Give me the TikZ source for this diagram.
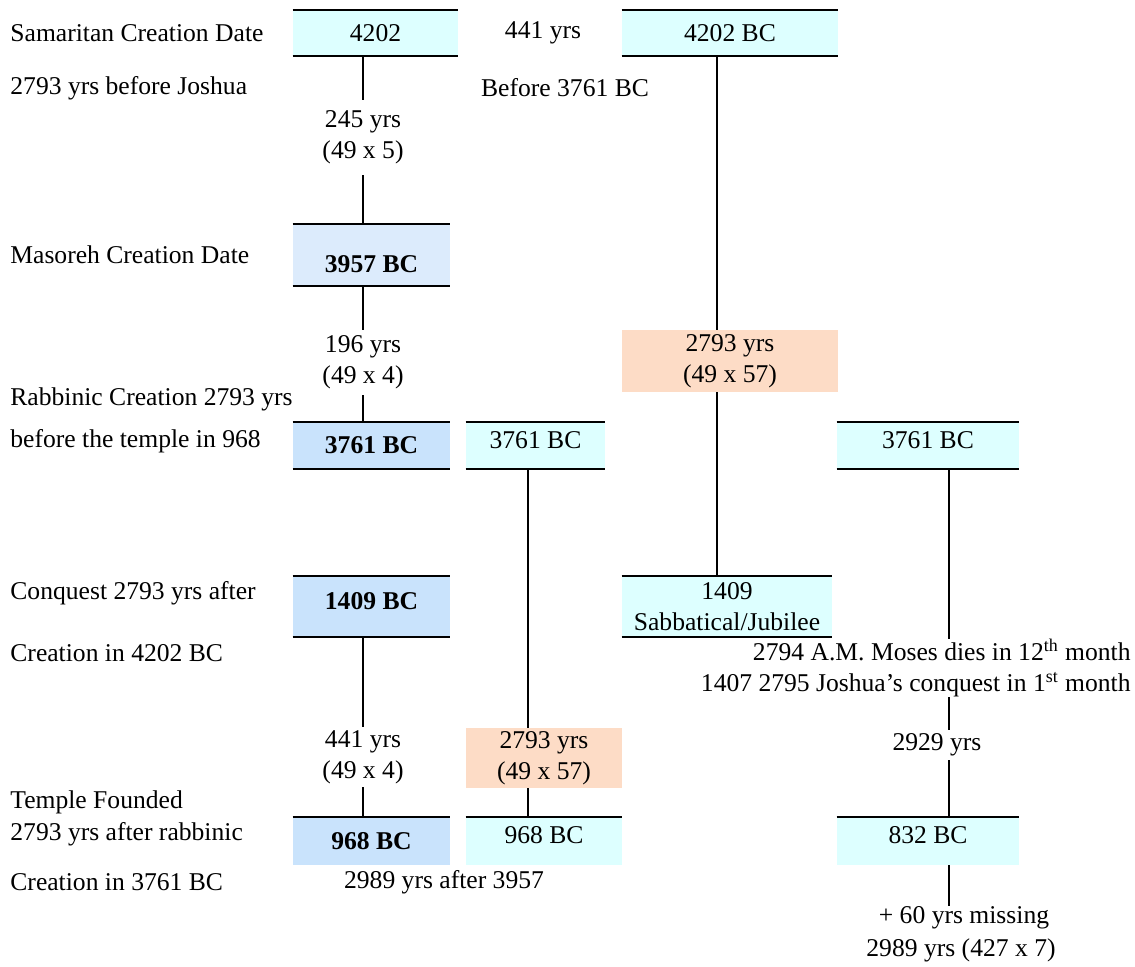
\documentclass[tikz,border=0pt]{standalone}
\usepackage{fontspec}
\setmainfont{Liberation Serif}
\usepackage{tikz}
\usepackage{xcolor}
\usetikzlibrary{positioning}
\definecolor{skycyan}{HTML}{DDFFFF}
\definecolor{paleblue}{HTML}{DCEBFC}
\definecolor{midblue}{HTML}{C9E3FC}
\definecolor{peach}{HTML}{FDDCC6}

\begin{document}
\begin{tikzpicture}[x=0.5pt,y=-0.5pt,
  every node/.style={font=\fontsize{12.8}{15.5}\selectfont,inner sep=0pt},
  rule/.style={line width=1pt},
  datebox/.style={fill=#1,align=center},
  cell/.style 2 args={minimum width=#1,minimum height=#2},
  span/.style={align=center,minimum height=#1}]
\useasboundingbox (0,0) rectangle (1135,966);
\coordinate (lx) at (528,0);\coordinate (mx) at (717,0);\coordinate (rx) at (949,0);
% date boxes
\node[datebox=skycyan,cell={82.5pt}{23pt}] (b4202) at (375.5,33) {4202};
\node[datebox=skycyan,cell={108pt}{23pt}] (b4202bc) at (730,33) {4202 BC};
\node[datebox=paleblue,cell={78.5pt}{31pt},text height=18pt] (b3957) at (371.5,255) {\textbf{3957 BC}};
\node[datebox=midblue,cell={78.5pt}{23.5pt}] (b3761a) at (371.5,445.5) {\textbf{3761 BC}};
\node[datebox=skycyan,cell={69.5pt}{23.5pt},text depth=5pt] (b3761b) at (535.5,445.5) {3761 BC};
\node[datebox=skycyan,cell={91pt}{23.5pt},text depth=5pt] (b3761c) at (928,445.5) {3761 BC};
\node[datebox=peach,cell={108pt}{31pt}] (o2793a) at (730,361) {2793 yrs\\(49 x 57)};
\node[datebox=midblue,cell={78.5pt}{30.5pt},text depth=6pt] (b1409) at (371.5,606.5) {\textbf{1409 BC}};
\node[datebox=skycyan,cell={105pt}{30.5pt}] (b1409s) at (727,606.5) {1409\\Sabbatical/Jubilee};
\node[datebox=peach,cell={78pt}{30pt}] (o2793b) at (544,758) {2793 yrs\\(49 x 57)};
\node[datebox=midblue,cell={78.5pt}{24pt}] (b968a) at (371.5,841) {\textbf{968 BC}};
\node[datebox=skycyan,cell={78pt}{24pt},text depth=6pt] (b968b) at (544,841) {968 BC};
\node[datebox=skycyan,cell={91pt}{24pt},text depth=6pt] (b832) at (928,841) {832 BC};
\foreach \b in {b4202,b4202bc,b3957,b3761a,b3761b,b3761c,b1409,b1409s,b968a,b968b,b832}
  \draw[rule] (\b.north west) -- (\b.north east);
\foreach \b in {b4202,b4202bc,b3957,b3761a,b3761b,b3761c,b1409,b1409s}
  \draw[rule] (\b.south west) -- (\b.south east);
% spans between dates
\node[span=37.5pt] (s245) at (363,137.5) {245 yrs\\(49 x 5)};
\node[span=32.5pt] (s196) at (363,362.5) {196 yrs\\(49 x 4)};
\node[span=30pt] (s441) at (363,757) {441 yrs\\(49 x 4)};
\node[span=15pt] (s2929) at (937,745) {2929 yrs};
\node[anchor=east,align=right] (moses) at (1131,668) {2794 A.M. Moses dies in 12\textsuperscript{th} month\\1407 2795 Joshua’s conquest in 1\textsuperscript{st} month};
\node (miss) at (964,918) {+ 60 yrs missing};
\node (total) at (961,950) {2989 yrs (427 x 7)};
\node (gap441) at (543,33) {441 yrs};
\node (before) at (565,88) {Before 3761 BC};
\node (after3957) at (444,882) {2989 yrs after 3957};
% left notes
\node[anchor=west] (samlab) at (10,33) {Samaritan Creation Date};
\node[anchor=west] (samnote) at (10,88) {2793 yrs before Joshua};
\node[anchor=west] (maslab) at (10,255) {Masoreh Creation Date};
\node[anchor=west] (rablab) at (10,399) {Rabbinic Creation 2793 yrs};
\node[anchor=west] (rabnote) at (10,441) {before the temple in 968};
\node[anchor=west] (conlab) at (10,593) {Conquest 2793 yrs after};
\node[anchor=west] (connote) at (10,653) {Creation in 4202 BC};
\node[anchor=west] (temlab) at (10,802) {Temple Founded};
\node[anchor=west] (temnote) at (10,834) {2793 yrs after rabbinic};
\node[anchor=west] (temcre) at (10,882) {Creation in 3761 BC};
% connectors
\draw[rule] (s245.north |- b4202.south) -- (s245.north);
\draw[rule] (s245.south) -- (s245.south |- b3957.north);
\draw[rule] (s196.north |- b3957.south) -- (s196.north);
\draw[rule] (s196.south) -- (s196.south |- b3761a.north);
\draw[rule] (s441.north |- b1409.south) -- (s441.north);
\draw[rule] (s441.south) -- (s441.south |- b968a.north);
\draw[rule] (mx |- b4202bc.south) -- (mx |- o2793a.north);
\draw[rule] (mx |- o2793a.south) -- (mx |- b1409s.north);
\draw[rule] (lx |- b3761b.south) -- (lx |- o2793b.north);
\draw[rule] (lx |- o2793b.south) -- (lx |- b968b.north);
\draw[rule] (rx |- b3761c.south) -- (rx |- moses.north);
\draw[rule] (rx |- moses.south) -- (rx |- s2929.north);
\draw[rule] (rx |- s2929.south) -- (rx |- b832.north);
\draw[rule] (rx |- b832.south) -- (rx |- miss.north);
\end{tikzpicture}
\end{document}
